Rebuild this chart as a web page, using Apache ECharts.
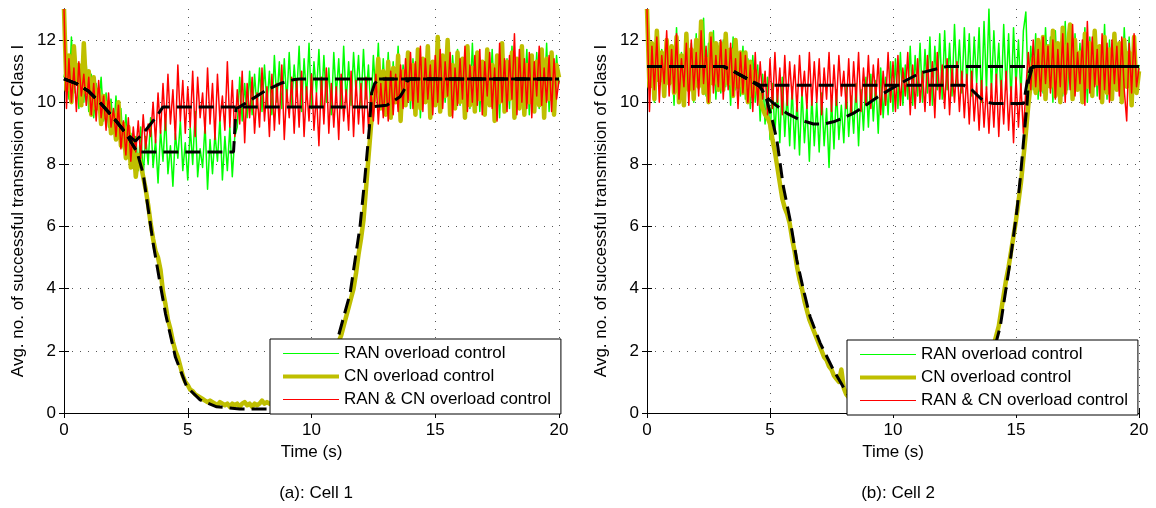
<!DOCTYPE html>
<html>
<head>
<meta charset="utf-8">
<script src="https://cdn.jsdelivr.net/npm/echarts@6/dist/echarts.min.js"></script>
<style>
  html, body { margin: 0; padding: 0; background: #fff; }
  #chart { width: 1156px; height: 508px; }
</style>
</head>
<body>
<div id="chart"></div>
<script>
// sample step of the noisy traces (s)
var DT = 0.1;
var names = ['RAN overload control', 'CN overload control', 'RAN & CN overload control'];

// (a) Cell 1 - noisy traces, one value every 0.1 s
var g1 = [
  10.8, 11.2, 10.1, 12.1, 10.3, 11.3, 9.8, 11.0, 10.0, 11.2,
  9.7, 10.9, 9.5, 10.6, 9.9, 10.8, 9.4, 10.3, 9.2, 10.1,
  9.0, 10.2, 8.9, 9.8, 8.5, 9.6, 8.2, 9.0, 7.9, 8.9,
  7.8, 9.2, 7.6, 8.9, 8.0, 9.5, 7.9, 8.8, 7.4, 9.1,
  8.1, 9.6, 7.7, 8.6, 7.3, 9.0, 8.2, 9.4, 7.8, 8.7,
  7.5, 9.2, 8.0, 9.7, 7.6, 8.5, 7.9, 9.3, 7.2, 8.8,
  7.7, 9.0, 8.1, 9.5, 7.5, 8.9, 7.8, 9.2, 7.6, 8.9,
  9.2, 10.8, 9.4, 10.6, 9.5, 11.0, 9.6, 10.9, 9.8, 11.1,
  9.7, 11.2, 9.9, 11.0, 9.6, 11.5, 10.0, 11.3, 9.8, 11.4,
  10.0, 11.6, 9.9, 11.2, 10.2, 11.8, 9.7, 11.4, 10.1, 11.9,
  9.8, 11.3, 10.3, 11.7, 9.9, 11.5, 10.0, 11.1, 9.6, 11.6,
  10.2, 11.4, 9.8, 11.8, 10.0, 11.3, 9.9, 11.6, 10.3, 11.5,
  9.9, 11.7, 10.1, 11.2, 9.7, 11.5, 10.2, 11.9, 9.8, 11.4,
  10.0, 11.6, 9.6, 11.3, 10.1, 11.8, 9.9, 11.2, 10.3, 11.5,
  9.8, 11.4, 10.0, 11.7, 9.5, 11.3, 10.2, 11.6, 9.9, 11.1,
  10.1, 11.8, 9.7, 11.4, 10.0, 11.2, 9.6, 11.5, 10.3, 11.7,
  9.9, 11.3, 10.1, 11.6, 9.8, 11.9, 10.0, 11.4, 9.7, 11.2,
  10.2, 11.5, 9.9, 11.7, 10.0, 11.3, 9.5, 11.6, 10.1, 11.4,
  9.8, 11.8, 10.0, 11.2, 9.9, 11.5, 10.3, 11.7, 9.6, 11.3,
  10.1, 11.6, 9.8, 11.4, 10.0, 11.9, 9.7, 11.2, 10.2, 11.5,
  10.6
];
var c1 = [
  13.0, 10.4, 11.5, 10.0, 11.8, 10.6, 11.2, 9.9, 11.9, 10.3,
  11.0, 9.6, 10.8, 9.8, 10.4, 9.3, 10.2, 9.5, 10.0, 9.0,
  9.6, 8.8, 10.0, 8.6, 9.3, 8.2, 9.2, 7.9, 8.8, 7.6,
  8.3, 8.0, 7.6, 7.2, 6.7, 6.1, 5.6, 5.2, 5.0, 4.6,
  3.9, 3.5, 3.0, 2.7, 2.3, 2.0, 1.8, 1.5, 1.2, 1.0,
  0.9, 0.75, 0.7, 0.6, 0.55, 0.5, 0.45, 0.4, 0.35, 0.4,
  0.35, 0.3, 0.25, 0.35, 0.3, 0.25, 0.3, 0.2, 0.3, 0.25,
  0.3, 0.2, 0.3, 0.35, 0.25, 0.3, 0.2, 0.3, 0.25, 0.3,
  0.4, 0.3, 0.35, 0.3, 0.3, 0.35, 0.3, 0.3, 0.35, 0.3,
  0.35, 0.3, 0.35, 0.4, 0.35, 0.4, 0.45, 0.5, 0.55, 0.6,
  0.7, 0.8, 0.9, 1.0, 1.15, 1.3, 1.5, 1.7, 1.9, 2.1,
  2.2, 2.3, 2.5, 2.8, 3.1, 3.4, 3.7, 4.0, 4.5, 5.1,
  5.6, 6.2, 7.2, 8.2, 9.2, 10.0, 10.4, 11.4, 9.8, 11.0,
  9.6, 11.3, 9.5, 11.1, 10.0, 11.5, 9.4, 11.0, 9.9, 11.6,
  10.1, 11.2, 9.6, 11.7, 9.8, 11.4, 10.0, 11.8, 9.5, 11.3,
  9.9, 12.1, 9.7, 11.5, 10.2, 12.0, 9.6, 11.2, 9.8, 11.6,
  10.0, 11.4, 9.5, 11.8, 9.9, 11.1, 9.7, 11.6, 10.1, 11.3,
  9.6, 11.7, 9.9, 11.2, 9.4, 11.5, 10.0, 11.9, 9.7, 11.3,
  10.1, 11.6, 9.5, 11.4, 9.8, 11.8, 9.6, 11.2, 10.0, 11.5,
  9.7, 11.3, 9.9, 11.7, 9.5, 11.4, 10.1, 11.6, 9.6, 11.2,
  10.8
];
var r1 = [
  13.0, 9.8, 11.4, 10.0, 11.1, 9.7, 11.3, 10.2, 10.9, 9.9,
  10.8, 9.6, 10.6, 9.4, 10.7, 9.5, 10.2, 9.1, 10.3, 9.2,
  9.8, 8.9, 9.9, 8.5, 9.4, 8.3, 9.5, 8.1, 9.2, 8.4,
  9.4, 8.2, 9.6, 8.5, 9.3, 8.9, 10.0, 8.7, 10.3, 9.0,
  10.6, 9.1, 10.9, 9.3, 10.4, 8.8, 11.2, 9.4, 10.7, 9.0,
  10.5, 9.2, 11.0, 8.9, 10.8, 9.5, 10.3, 9.0, 11.1, 9.3,
  10.6, 8.8, 10.9, 9.4, 10.2, 9.1, 11.3, 9.2, 10.7, 8.9,
  10.4, 9.3, 11.0, 8.7, 10.6, 9.5, 10.8, 9.0, 10.3, 9.2,
  11.1, 9.4, 10.5, 8.9, 10.9, 9.1, 10.6, 9.3, 11.2, 8.8,
  10.4, 9.5, 10.8, 9.0, 10.7, 9.2, 11.0, 8.9, 10.5, 9.4,
  10.9, 9.1, 10.3, 8.6, 10.8, 9.3, 11.1, 9.0, 10.6, 9.2,
  10.5, 8.8, 10.9, 9.4, 10.4, 9.1, 11.0, 8.9, 10.7, 9.3,
  10.6, 9.0, 10.8, 9.2, 10.3, 9.4, 10.9, 9.3, 10.6, 9.5,
  10.8, 9.4, 11.0, 9.6, 10.9, 9.7, 11.2, 9.8, 11.4, 10.0,
  11.6, 9.8, 11.3, 10.0, 11.8, 9.7, 11.4, 10.1, 11.2, 9.6,
  11.5, 10.0, 11.7, 9.8, 11.3, 10.2, 11.6, 9.5, 11.1, 9.9,
  11.4, 10.1, 11.8, 9.7, 11.2, 10.0, 11.5, 9.9, 11.7, 9.6,
  11.3, 10.2, 11.6, 9.8, 11.1, 9.4, 11.9, 10.0, 11.4, 9.7,
  11.5, 10.1, 12.2, 9.6, 11.7, 10.0, 11.4, 9.8, 11.6, 9.5,
  11.3, 10.2, 11.8, 9.9, 11.1, 10.0, 11.5, 9.7, 11.4, 10.1,
  10.7
];

// (a) Cell 1 - averaged curves [t, value]
var g1Mean = [[0, 10.75], [0.5, 10.6], [1, 10.35], [1.5, 9.95], [2, 9.5], [2.5, 9.0], [2.95, 8.4],
  [6.85, 8.4], [6.95, 9.8], [7.1, 9.85], [7.6, 10.1], [8.2, 10.4], [8.8, 10.62], [9.25, 10.72], [9.5, 10.75], [20, 10.75]];
var c1Mean = [[0, 10.75], [0.5, 10.6], [1, 10.35], [1.5, 9.95], [2, 9.5], [2.5, 9.0], [2.95, 8.4],
  [3.2, 7.7], [3.35, 6.85], [3.6, 5.47], [3.88, 4.18], [4.1, 3.2], [4.5, 1.8], [4.96, 0.84], [5.5, 0.42],
  [6.17, 0.2], [7.1, 0.13], [8.2, 0.13], [9.5, 0.2], [10.2, 0.7], [10.7, 1.6], [11.08, 2.45], [11.56, 3.85],
  [11.96, 6.0], [12.16, 7.6], [12.34, 9.2], [12.43, 10.3], [12.55, 10.6], [12.7, 10.72], [12.9, 10.75], [20, 10.75]];
var r1Mean = [[0, 10.75], [0.5, 10.6], [1, 10.35], [1.5, 9.95], [2, 9.5], [2.5, 9.0], [2.88, 8.75],
  [3.2, 9.0], [3.5, 9.3], [3.75, 9.55], [4.0, 9.85], [12.43, 9.85], [13.04, 9.9], [13.58, 10.18],
  [13.78, 10.45], [13.85, 10.66], [14.0, 10.75], [20, 10.75]];

// (b) Cell 2 - noisy traces
var g2 = [
  12.3, 10.4, 11.9, 10.0, 12.2, 10.6, 11.7, 10.2, 12.0, 10.5,
  11.8, 9.9, 12.4, 10.3, 11.6, 10.1, 12.1, 10.7, 11.9, 10.0,
  12.2, 10.4, 11.7, 12.7, 10.2, 11.9, 10.6, 12.3, 10.1, 11.8,
  10.3, 12.0, 10.5, 11.6, 9.9, 12.1, 10.4, 11.5, 10.2, 11.8,
  10.1, 11.4, 9.8, 11.5, 10.0, 11.2, 9.4, 10.9, 9.3, 10.8,
  8.8, 10.6, 9.0, 10.4, 8.7, 10.8, 8.9, 10.3, 8.6, 10.5,
  8.5, 10.1, 8.3, 10.4, 8.7, 9.9, 8.1, 10.2, 8.6, 10.0,
  8.4, 10.3, 8.6, 9.8, 7.9, 10.1, 8.5, 10.4, 8.8, 9.9,
  8.7, 10.5, 8.9, 10.2, 9.0, 10.6, 8.6, 10.4, 9.1, 10.8,
  9.2, 10.9, 9.4, 10.7, 9.0, 11.1, 9.5, 10.8, 9.6, 11.3,
  9.7, 11.4, 9.8, 11.6, 9.9, 11.2, 10.1, 11.8, 9.9, 11.5,
  10.2, 11.9, 10.0, 11.7, 10.3, 12.1, 9.9, 11.8, 10.4, 12.2,
  10.1, 12.3, 10.4, 11.9, 10.2, 12.5, 10.6, 12.0, 10.3, 12.4,
  10.5, 12.2, 10.2, 12.1, 10.6, 12.4, 10.0, 12.6, 10.4, 13.0,
  10.3, 12.3, 10.6, 11.9, 10.1, 12.5, 10.4, 12.2, 10.0, 12.4,
  10.5, 12.0, 10.2, 12.3, 12.9, 10.3, 11.8, 10.4, 12.2, 10.1,
  11.9, 10.3, 12.4, 10.6, 12.1, 10.0, 12.3, 10.5, 11.8, 10.2,
  12.6, 10.4, 12.0, 10.1, 12.2, 10.5, 11.9, 10.3, 12.4, 10.0,
  12.1, 10.6, 12.3, 10.2, 11.8, 10.4, 12.5, 10.1, 12.0, 10.3,
  12.2, 10.5, 11.9, 10.0, 12.4, 10.6, 12.1, 10.2, 11.8, 10.4,
  11.2
];
var c2 = [
  13.0, 10.5, 11.9, 10.1, 12.3, 10.7, 11.6, 10.2, 12.0, 10.6,
  11.8, 10.3, 12.1, 10.0, 11.5, 9.9, 12.2, 10.4, 11.7, 10.1,
  12.0, 10.5, 12.6, 10.3, 11.4, 10.0, 12.2, 10.6, 11.9, 10.4,
  11.9, 10.4, 12.2, 10.6, 11.7, 10.2, 12.0, 10.5, 11.6, 10.3,
  11.6, 10.0, 11.3, 10.2, 11.0, 10.4, 10.1, 9.8, 9.6, 9.5,
  9.3, 8.8, 8.4, 7.9, 7.4, 6.9, 6.6, 6.4, 6.1, 5.6,
  5.2, 4.7, 4.3, 4.0, 3.6, 3.3, 3.0, 2.8, 2.6, 2.4,
  2.2, 2.0, 1.8, 1.7, 1.5, 1.4, 1.2, 1.1, 1.0, 1.4,
  0.8, 0.6, 0.5, 0.4, 0.35, 0.3, 0.3, 0.25, 0.25, 0.2,
  0.2, 0.2, 0.15, 0.2, 0.15, 0.2, 0.15, 0.15, 0.2, 0.15,
  0.2, 0.15, 0.15, 0.2, 0.15, 0.15, 0.2, 0.15, 0.15, 0.2,
  0.15, 0.2, 0.15, 0.15, 0.2, 0.15, 0.2, 0.15, 0.15, 0.2,
  0.15, 0.2, 0.15, 0.2, 0.2, 0.25, 0.2, 0.25, 0.3, 0.3,
  0.35, 0.4, 0.5, 0.6, 0.75, 0.9, 1.1, 1.3, 1.5, 1.75,
  2.0, 2.2, 2.5, 2.8, 3.3, 3.8, 4.3, 4.7, 5.2, 5.7,
  6.2, 6.8, 7.4, 8.2, 9.0, 9.9, 10.6, 11.4, 10.3, 12.0,
  10.4, 12.1, 10.1, 11.8, 10.5, 12.3, 10.2, 11.9, 10.0, 12.4,
  10.3, 11.7, 12.5, 10.1, 12.0, 10.4, 11.6, 10.0, 12.2, 10.5,
  11.9, 10.2, 12.3, 10.6, 11.8, 10.0, 12.1, 10.3, 11.7, 10.1,
  12.2, 10.4, 11.9, 10.0, 12.0, 10.5, 11.6, 9.9, 12.1, 10.3,
  11.0
];
var r2 = [
  13.0, 9.7, 11.8, 10.4, 12.1, 10.0, 11.5, 10.6, 12.3, 10.2,
  11.7, 10.3, 12.2, 10.1, 11.4, 10.5, 11.9, 9.9, 12.0, 10.4,
  11.6, 10.2, 12.3, 10.6, 11.8, 10.0, 12.1, 10.3, 11.5, 10.5,
  12.0, 10.1, 11.7, 10.4, 11.9, 10.2, 11.4, 9.8, 11.6, 10.3,
  11.5, 10.0, 11.2, 9.7, 11.6, 9.9, 11.3, 10.1, 11.0, 9.6,
  11.4, 9.8, 11.6, 10.0, 11.1, 9.6, 11.5, 9.9, 11.3, 10.1,
  11.2, 9.7, 11.5, 10.2, 11.0, 9.8, 11.6, 9.9, 11.3, 10.0,
  11.4, 9.6, 11.1, 10.1, 11.6, 9.7, 11.2, 9.9, 11.5, 10.2,
  11.0, 9.8, 11.4, 9.6, 11.3, 10.0, 11.6, 9.7, 11.1, 9.9,
  11.5, 9.8, 11.2, 10.1, 11.4, 9.6, 11.0, 9.9, 11.6, 10.0,
  11.3, 9.7, 11.5, 9.9, 11.1, 10.2, 11.6, 9.6, 11.2, 9.8,
  11.4, 10.0, 11.0, 9.7, 11.5, 9.9, 11.3, 9.5, 11.6, 10.1,
  11.2, 9.8, 11.4, 9.6, 11.1, 10.0, 11.3, 9.7, 11.0, 9.5,
  10.9, 9.3, 11.0, 9.4, 10.6, 9.1, 10.7, 9.2, 10.5, 9.0,
  10.6, 9.2, 10.9, 8.9, 10.7, 9.3, 11.0, 9.1, 10.5, 8.7,
  10.8, 9.2, 10.6, 9.0, 10.4, 11.6, 10.4, 12.0, 10.5, 11.7,
  10.2, 12.1, 10.6, 11.8, 10.3, 12.0, 10.1, 11.7, 10.5, 12.2,
  10.0, 11.9, 10.4, 12.5, 10.2, 11.6, 10.6, 12.0, 9.9, 12.6,
  10.3, 12.1, 10.5, 11.7, 10.1, 12.2, 10.4, 11.9, 10.0, 12.0,
  10.6, 11.8, 10.2, 12.1, 10.4, 9.4, 11.9, 10.3, 12.2, 10.5,
  11.1
];

// (b) Cell 2 - averaged curves [t, value]
var g2Mean = [[0, 11.15], [3.1, 11.15], [3.4, 11.05], [3.78, 10.88], [4.2, 10.7], [4.6, 10.5], [4.87, 10.15],
  [5.15, 9.96], [5.69, 9.64], [6.23, 9.43], [6.77, 9.3], [7.2, 9.3], [7.58, 9.37], [8.0, 9.5], [8.4, 9.65],
  [8.8, 9.85], [9.2, 10.07], [9.5, 10.23], [10.28, 10.6], [11.1, 10.94], [11.9, 11.1], [12.2, 11.15], [20, 11.15]];
var c2Mean = [[0, 11.15], [3.1, 11.15], [3.4, 11.05], [3.78, 10.88], [4.2, 10.7], [4.6, 10.5], [4.87, 10.07],
  [5.1, 9.4], [5.28, 8.78], [5.54, 7.3], [5.82, 6.2], [6.09, 4.92], [6.36, 3.96], [6.63, 3.1], [7.04, 2.25],
  [7.58, 1.38], [8.12, 0.64], [8.6, 0.3], [9.5, 0.12], [13.2, 0.12], [13.6, 0.6], [14.0, 1.7], [14.36, 2.78],
  [14.77, 4.92], [15.04, 6.53], [15.18, 7.6], [15.31, 8.78], [15.45, 9.96], [15.51, 10.7], [15.65, 11.09],
  [15.85, 11.15], [20, 11.15]];
var r2Mean = [[0, 11.15], [3.1, 11.15], [3.4, 11.05], [3.78, 10.88], [4.2, 10.7], [4.6, 10.55], [12.87, 10.55],
  [13.2, 10.4], [13.55, 10.13], [13.8, 10.0], [14.09, 9.96], [15.31, 9.96], [15.4, 10.4], [15.5, 10.85],
  [15.6, 11.1], [15.8, 11.15], [20, 11.15]];

var FONT = 'Liberation Sans, Arial, Helvetica, sans-serif';
var yTicks = [0, 2, 4, 6, 8, 10, 12];

function pts(vals) {
    return vals.map(function(v, i) { return [+(i * DT).toFixed(1), v]; });
}

function noisy(name, vals, color, width, k) {
    return {
        name: name, type: 'line', xAxisIndex: k, yAxisIndex: k,
        data: pts(vals), symbol: 'none', silent: true,
        lineStyle: { color: color, width: width, join: 'round' },
        itemStyle: { color: color }
    };
}

function mean(vals, k) {
    return {
        name: 'mean', type: 'line', xAxisIndex: k, yAxisIndex: k,
        data: vals, symbol: 'none', silent: true, z: 3,
        lineStyle: { color: '#000', width: 3, type: [15, 7] }
    };
}

function bottomAxis(k) {
    return {
        gridIndex: k, type: 'value', min: 0, max: 20, interval: 5,
        axisLine: { lineStyle: { color: '#000', width: 1 } },
        axisTick: { inside: true, length: 5, lineStyle: { color: '#000' } },
        axisLabel: { color: '#000', fontSize: 17, fontFamily: FONT, margin: 9 },
        splitLine: { show: true, lineStyle: { color: '#555', width: 1, type: [1, 7] } },
        name: 'Time (s)', nameLocation: 'middle', nameGap: 29,
        nameTextStyle: { color: '#000', fontSize: 17, fontFamily: FONT }
    };
}
function topAxis(k) {
    return {
        gridIndex: k, type: 'value', position: 'top', min: 0, max: 20, interval: 5,
        axisLine: { lineStyle: { color: '#000', width: 1 } },
        axisTick: { inside: true, length: 5, lineStyle: { color: '#000' } },
        axisLabel: { show: false }, splitLine: { show: false }
    };
}
function leftAxis(k) {
    return {
        gridIndex: k, type: 'value', min: 0, max: 13, interval: 2,
        axisLine: { show: true, lineStyle: { color: '#000', width: 1 } },
        axisTick: { show: true, inside: true, length: 5, lineStyle: { color: '#000' },
            customValues: yTicks },
        axisLabel: { color: '#000', fontSize: 17, fontFamily: FONT, margin: 8,
            customValues: yTicks },
        splitLine: { show: true, lineStyle: { color: '#555', width: 1, type: [1, 7] } },
        name: 'Avg. no. of successful transmision of Class I', nameLocation: 'middle', nameGap: 37,
        nameTextStyle: { color: '#000', fontSize: 17, fontFamily: FONT }
    };
}
function rightAxis(k) {
    return {
        gridIndex: k, type: 'value', position: 'right', min: 0, max: 13, interval: 2,
        axisLine: { show: true, lineStyle: { color: '#000', width: 1 } },
        axisTick: { show: true, inside: true, length: 5, lineStyle: { color: '#000' },
            customValues: yTicks },
        axisLabel: { show: false }, splitLine: { show: false }
    };
}
function legendBox(left, top) {
    return {
        orient: 'vertical', left: left, top: top,
        backgroundColor: '#fff', borderColor: '#000', borderWidth: 1, borderRadius: 0,
        padding: [6, 10, 6, 11], itemGap: 6, itemWidth: 56, itemHeight: 17,
        textStyle: { color: '#000', fontSize: 17, fontFamily: FONT },
        selectedMode: false,
        // hide the marker drawn in the middle of the line icon
        itemStyle: { opacity: 0 },
        data: [
            { name: names[0], lineStyle: { width: 1 } },
            { name: names[1], lineStyle: { width: 4 } },
            { name: names[2], lineStyle: { width: 1 } }
        ]
    };
}

var chart = echarts.init(document.getElementById('chart'));
chart.setOption({
    animation: false,
    backgroundColor: '#fff',
    textStyle: { fontFamily: FONT },
    title: [
        { text: '(a): Cell 1', left: 311, top: 480, textAlign: 'center',
          textStyle: { fontSize: 17, fontWeight: 'normal', color: '#000', fontFamily: FONT } },
        { text: '(b): Cell 2', left: 893, top: 480, textAlign: 'center',
          textStyle: { fontSize: 17, fontWeight: 'normal', color: '#000', fontFamily: FONT } }
    ],
    grid: [
        { left: 64, width: 495, top: 9, height: 404 },
        { left: 647, width: 492, top: 9, height: 404 }
    ],
    xAxis: [bottomAxis(0), bottomAxis(1), topAxis(0), topAxis(1)],
    yAxis: [leftAxis(0), leftAxis(1), rightAxis(0), rightAxis(1)],
    legend: [legendBox(270, 339), legendBox(847, 340)],
    series: [
        noisy(names[0], g1, '#00ff00', 1.5, 0),
        noisy(names[1], c1, '#bfbf00', 4.5, 0),
        noisy(names[2], r1, '#ff0000', 1.5, 0),
        mean(g1Mean, 0), mean(c1Mean, 0), mean(r1Mean, 0),
        noisy(names[0], g2, '#00ff00', 1.5, 1),
        noisy(names[1], c2, '#bfbf00', 4.5, 1),
        noisy(names[2], r2, '#ff0000', 1.5, 1),
        mean(g2Mean, 1), mean(c2Mean, 1), mean(r2Mean, 1)
    ]
});
</script>
</body>
</html>
